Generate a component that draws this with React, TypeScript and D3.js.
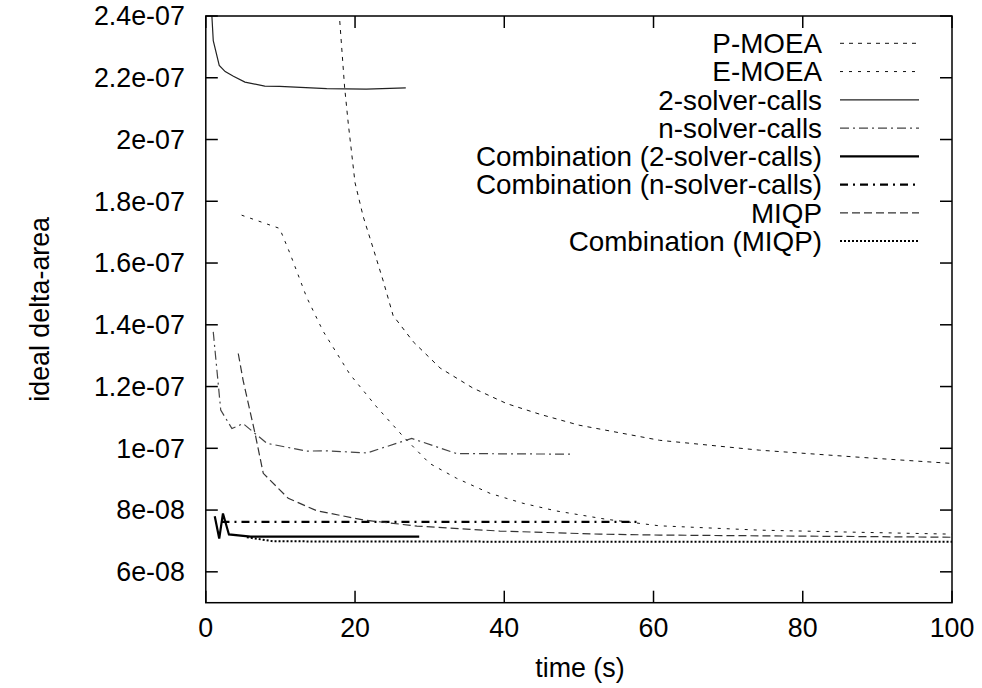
import React, { useRef, useEffect } from 'react';
import * as d3 from 'd3';

// time (s), ideal delta-area
const pMoea: [number, number][] = [
  [17.6, 25.0e-8], [18.6, 21.7e-8], [19.1, 20.5e-8], [20.0, 18.6e-8], [21.1, 17.5e-8],
  [22.4, 16.5e-8], [23.8, 15.4e-8], [25.1, 14.3e-8], [27.8, 13.45e-8], [31.4, 12.6e-8],
  [35.8, 11.95e-8], [40.3, 11.45e-8], [44.8, 11.1e-8], [50, 10.75e-8], [60.8, 10.26e-8],
  [74.2, 9.94e-8], [87.6, 9.71e-8], [100, 9.51e-8],
];
const eMoea: [number, number][] = [
  [4.8, 17.55e-8], [9.9, 17.12e-8], [11.3, 16.3e-8], [13.5, 14.9e-8], [15.7, 13.8e-8],
  [19.3, 12.4e-8], [22.9, 11.34e-8], [26.5, 10.37e-8], [30.0, 9.51e-8], [33.6, 9.03e-8],
  [38.1, 8.54e-8], [42.5, 8.22e-8], [47, 7.97e-8], [53.7, 7.7e-8], [60.8, 7.49e-8],
  [74.2, 7.35e-8], [87.6, 7.28e-8], [100, 7.22e-8],
];
const twoSolver: [number, number][] = [
  [0.7, 24.5e-8], [1.0, 23.2e-8], [1.8, 22.4e-8], [2.6, 22.2e-8], [3.7, 22.05e-8],
  [5.25, 21.86e-8], [7.9, 21.73e-8], [9.9, 21.72e-8], [16.2, 21.65e-8], [21.5, 21.63e-8],
  [26.8, 21.67e-8],
];
const nSolver: [number, number][] = [
  [1.0, 13.77e-8], [2.0, 11.24e-8], [3.5, 10.64e-8], [5.0, 10.8e-8], [8.2, 10.16e-8],
  [13.5, 9.91e-8], [16.2, 9.92e-8], [21.6, 9.85e-8], [27.6, 10.32e-8], [33.6, 9.83e-8],
  [49.2, 9.81e-8],
];
const comb2: [number, number][] = [
  [1.2, 7.8e-8], [1.8, 7.08e-8], [2.3, 7.89e-8], [3.1, 7.21e-8], [6, 7.14e-8], [28.6, 7.14e-8],
];
const combN: [number, number][] = [
  [2.1, 7.62e-8], [57.9, 7.62e-8],
];
const miqp: [number, number][] = [
  [4.35, 13.07e-8], [5.0, 12.2e-8], [6.6, 10.48e-8], [7.7, 9.19e-8], [11.05, 8.38e-8],
  [14.85, 7.98e-8], [21.1, 7.68e-8], [28.3, 7.48e-8], [39.4, 7.32e-8], [52.8, 7.22e-8],
  [60.8, 7.19e-8], [100, 7.12e-8],
];
const combMiqp: [number, number][] = [
  [5.5, 7.12e-8], [9, 6.99e-8], [20, 6.98e-8], [100, 6.97e-8],
];

const xTicks = [0, 20, 40, 60, 80, 100];
const yTicks = [6e-8, 8e-8, 1e-7, 1.2e-7, 1.4e-7, 1.6e-7, 1.8e-7, 2e-7, 2.2e-7, 2.4e-7];

const series = [
  { name: 'P-MOEA', data: pMoea, color: '#111', width: 1, dash: '4,5' },
  { name: 'E-MOEA', data: eMoea, color: '#111', width: 1, dash: '3,6' },
  { name: '2-solver-calls', data: twoSolver, color: '#222', width: 1.2, dash: null },
  { name: 'n-solver-calls', data: nSolver, color: '#444', width: 1.2, dash: '9,4,2,4' },
  { name: 'Combination (2-solver-calls)', data: comb2, color: '#000', width: 2.2, dash: null },
  { name: 'Combination (n-solver-calls)', data: combN, color: '#000', width: 2.2, dash: '8,5,2,5' },
  { name: 'MIQP', data: miqp, color: '#333', width: 1.2, dash: '8,4' },
  { name: 'Combination (MIQP)', data: combMiqp, color: '#000', width: 2, dash: '2,2' },
];

const App = () => {
  const svgRef = useRef<SVGSVGElement>(null);

  useEffect(() => {
    const width = 982;
    const height = 688;
    const left = 205.8;
    const right = 952;
    const top = 16;
    const bottom = 602.7;
    const font = '"Liberation Sans", Arial, Helvetica, sans-serif';

    const svg = d3.select(svgRef.current);
    svg.selectAll('*').remove();

    const x = d3.scaleLinear().domain([0, 100]).range([left, right]);
    const y = d3.scaleLinear().domain([5e-8, 2.4e-7]).range([bottom, top]);

    svg.append('defs').append('clipPath').attr('id', 'plot-clip')
      .append('rect').attr('x', left).attr('y', top).attr('width', right - left).attr('height', bottom - top);

    const line = d3.line<[number, number]>().x((d) => x(d[0])).y((d) => y(d[1]));

    // ticks, mirrored on all sides, pointing inward
    const tickLen = 12;
    const gTicks = svg.append('g').attr('stroke', '#000').attr('stroke-width', 1.5);
    xTicks.forEach((t) => {
      gTicks.append('line').attr('x1', x(t)).attr('x2', x(t)).attr('y1', bottom).attr('y2', bottom - tickLen);
      gTicks.append('line').attr('x1', x(t)).attr('x2', x(t)).attr('y1', top).attr('y2', top + tickLen);
    });
    yTicks.forEach((t) => {
      gTicks.append('line').attr('x1', left).attr('x2', left + tickLen).attr('y1', y(t)).attr('y2', y(t));
      gTicks.append('line').attr('x1', right).attr('x2', right - tickLen).attr('y1', y(t)).attr('y2', y(t));
    });

    const fmtY = (v: number) => {
      const s = v.toExponential();
      const [m, e] = s.split('e');
      const exp = parseInt(e, 10);
      const sign = exp < 0 ? '-' : '+';
      return `${m}e${sign}${String(Math.abs(exp)).padStart(2, '0')}`;
    };

    const gLabels = svg.append('g').style('font-family', font).style('font-size', '26.8px').attr('fill', '#000');
    xTicks.forEach((t) => {
      gLabels.append('text').attr('x', x(t)).attr('y', bottom + 25).attr('dy', '0.35em')
        .attr('text-anchor', 'middle').text(t);
    });
    yTicks.forEach((t) => {
      gLabels.append('text').attr('x', left - 21).attr('y', y(t)).attr('dy', '0.35em')
        .attr('text-anchor', 'end').text(fmtY(t));
    });
    gLabels.append('text').attr('x', (left + right) / 2 + 1).attr('y', 668).attr('dy', '0.35em')
      .attr('text-anchor', 'middle').text('time (s)');
    gLabels.append('text').attr('transform', `translate(40,${(top + bottom) / 2}) rotate(-90)`)
      .attr('dy', '0.35em').attr('text-anchor', 'middle').text('ideal delta-area');

    // series
    const gLines = svg.append('g').attr('clip-path', 'url(#plot-clip)').attr('fill', 'none');
    series.forEach((s) => {
      gLines.append('path').attr('d', line(s.data))
        .attr('stroke', s.color).attr('stroke-width', s.width)
        .attr('stroke-dasharray', s.dash ?? null);
    });

    // legend
    const gLegend = svg.append('g').style('font-family', font).style('font-size', '27.8px');
    series.forEach((s, i) => {
      const ly = 43.3 + i * 28.25;
      gLegend.append('text').attr('x', 822).attr('y', ly).attr('dy', '0.35em')
        .attr('text-anchor', 'end').attr('fill', '#000').text(s.name);
      gLegend.append('line').attr('x1', 840).attr('x2', 919).attr('y1', ly).attr('y2', ly)
        .attr('stroke', s.color).attr('stroke-width', s.width)
        .attr('stroke-dasharray', s.dash ?? null);
    });

    // frame
    svg.append('rect').attr('x', left).attr('y', top).attr('width', right - left).attr('height', bottom - top)
      .attr('fill', 'none').attr('stroke', '#000').attr('stroke-width', 1.5);

    svg.attr('width', width).attr('height', height);
  }, []);

  return (
    <svg
      ref={svgRef}
      width={982}
      height={688}
      style={{ position: 'absolute', left: 0, top: 0, background: '#fff' }}
    />
  );
};

export default App;
